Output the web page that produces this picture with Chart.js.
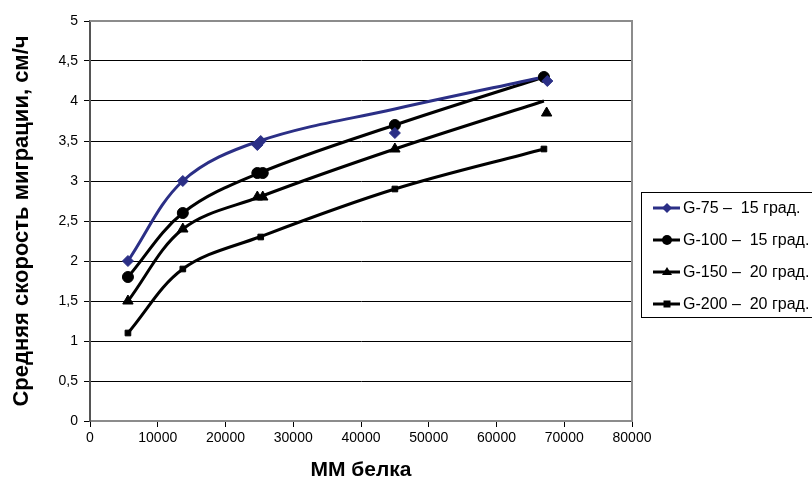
<!DOCTYPE html>
<html>
<head>
<meta charset="utf-8">
<script src="https://cdn.jsdelivr.net/npm/chart.js@4/dist/chart.umd.min.js"></script>
<style>
  body { margin: 0; background: #fff; }
  canvas { display: block; }
</style>
</head>
<body>
<canvas id="chart" width="812" height="483"></canvas>
<script>
// series names
const seriesLabels = ['G-75 \u2013  15 град.', 'G-100 \u2013  15 град.', 'G-150 \u2013  20 град.', 'G-200 \u2013  20 град.'];

// smoothed lines (x = MM, y = speed)
const g75LineX = [5600, 13700, 25000, 45000, 67000];
const g75LineY = [2.0, 3.0, 3.5, 3.9, 4.3];
const g100LineX = [5600, 13700, 25000, 45000, 67000];
const g100LineY = [1.8, 2.6, 3.1, 3.7, 4.3];
const g150LineX = [5600, 13700, 25000, 45000, 67000];
const g150LineY = [1.5, 2.4, 2.8, 3.4, 4.0];
const g200LineX = [5600, 13700, 25000, 45000, 67000];
const g200LineY = [1.1, 1.9, 2.3, 2.9, 3.4];

// measured points
const g75PointX = [5600, 13700, 24700, 25200, 45000, 67500];
const g75PointY = [2.0, 3.0, 3.45, 3.5, 3.6, 4.25];
const g100PointX = [5600, 13700, 24700, 25500, 45000, 67000];
const g100PointY = [1.8, 2.6, 3.1, 3.1, 3.7, 4.3];
const g150PointX = [5600, 13700, 24700, 25500, 45000, 67400];
const g150PointY = [1.5, 2.4, 2.8, 2.8, 3.4, 3.85];
const g200PointX = [5600, 13700, 25200, 45000, 67000];
const g200PointY = [1.1, 1.9, 2.3, 2.9, 3.4];

const xTicks = [0, 10000, 20000, 30000, 40000, 50000, 60000, 70000, 80000];
const yTicks = [0, 0.5, 1, 1.5, 2, 2.5, 3, 3.5, 4, 4.5, 5];

const colors = ['#2b2f86', '#000', '#000', '#000'];
const styles = ['rectRot', 'circle', 'triangle', 'rect'];
const radii = [5.5, 5.5, 6, 4];

function pairs(xs, ys) {
    return xs.map((x, i) => ({ x: x, y: ys[i] }));
}

const lines = [[g75LineX, g75LineY], [g100LineX, g100LineY], [g150LineX, g150LineY], [g200LineX, g200LineY]];
const points = [[g75PointX, g75PointY], [g100PointX, g100PointY], [g150PointX, g150PointY], [g200PointX, g200PointY]];

const datasets = [];
// lines go first so markers sit on top
lines.forEach((l, i) => {
    datasets.push({
        label: seriesLabels[i],
        data: pairs(l[0], l[1]),
        showLine: true,
        borderColor: colors[i],
        borderWidth: 3,
        tension: 0.35,
        pointRadius: 0,
        order: 2
    });
});
points.forEach((p, i) => {
    datasets.push({
        label: seriesLabels[i] + ' pts',
        data: pairs(p[0], p[1]),
        showLine: false,
        pointStyle: styles[i],
        pointRadius: radii[i],
        backgroundColor: colors[i],
        borderColor: colors[i],
        borderWidth: 1,
        order: 1
    });
});

// frame around the plot area (top and right sides)
const frame = {
    id: 'frame',
    beforeDatasetsDraw(chart) {
        const a = chart.chartArea;
        const ctx = chart.ctx;
        ctx.save();
        ctx.strokeStyle = '#8c8c8c';
        ctx.lineWidth = 2;
        ctx.beginPath();
        ctx.moveTo(a.left, a.top);
        ctx.lineTo(a.right, a.top);
        ctx.lineTo(a.right, a.bottom);
        ctx.stroke();
        ctx.restore();
    }
};

function marker(ctx, style, x, y, r) {
    ctx.beginPath();
    if (style === 'circle') {
        ctx.arc(x, y, r, 0, Math.PI * 2);
    } else if (style === 'rectRot') {
        ctx.moveTo(x, y - r); ctx.lineTo(x + r, y); ctx.lineTo(x, y + r); ctx.lineTo(x - r, y);
    } else if (style === 'triangle') {
        ctx.moveTo(x, y - r); ctx.lineTo(x + r, y + r * 0.6); ctx.lineTo(x - r, y + r * 0.6);
    } else {
        ctx.rect(x - r, y - r, r * 2, r * 2);
    }
    ctx.closePath();
    ctx.fill();
}

// legend box on the right, like the original
const boxLegend = {
    id: 'boxLegend',
    afterDraw(chart) {
        const ctx = chart.ctx;
        ctx.save();
        ctx.strokeStyle = '#000';
        ctx.lineWidth = 1;
        ctx.strokeRect(641.5, 192.5, 200, 125);
        ctx.font = '16px "Liberation Sans", Arial, sans-serif';
        ctx.textBaseline = 'middle';
        seriesLabels.forEach((lab, i) => {
            const y = 208 + i * 32;
            ctx.strokeStyle = colors[i];
            ctx.fillStyle = colors[i];
            ctx.lineWidth = 3;
            ctx.beginPath();
            ctx.moveTo(653, y);
            ctx.lineTo(680, y);
            ctx.stroke();
            marker(ctx, styles[i], 667, y, i === 3 ? 3.5 : 5);
            ctx.fillStyle = '#000';
            ctx.fillText(lab, 683, y + 1);
        });
        ctx.restore();
    }
};

const tickFont = { family: '"Liberation Sans", Arial, sans-serif', size: 14 };
const fontFamily = '"Liberation Sans", Arial, sans-serif';

new Chart(document.getElementById('chart'), {
    type: 'scatter',
    data: { datasets: datasets },
    options: {
        responsive: false,
        animation: false,
        layout: { padding: { top: 21, right: 180, left: 0, bottom: 0 } },
        plugins: {
            legend: { display: false },
            tooltip: { enabled: false }
        },
        scales: {
            x: {
                type: 'linear',
                min: 0,
                max: 80000,
                afterFit: s => { s.height = 62; },
                afterBuildTicks: s => { s.ticks = xTicks.map(v => ({ value: v })); },
                ticks: { font: tickFont, color: '#000', padding: 3, maxRotation: 0, callback: v => String(v) },
                grid: { drawOnChartArea: false, drawTicks: true, tickLength: 6, color: '#000' },
                border: { color: '#8c8c8c', width: 2 },
                title: { display: true, text: 'ММ белка', font: { family: fontFamily, size: 21, weight: 'bold' }, color: '#000', padding: { top: 0, bottom: 0 } }
            },
            y: {
                min: 0,
                max: 5,
                afterFit: s => { s.width = 90; },
                afterBuildTicks: s => { s.ticks = yTicks.map(v => ({ value: v })); },
                ticks: { font: tickFont, color: '#000', padding: 6, callback: v => String(v).replace('.', ',') },
                grid: { color: '#000', lineWidth: 1, drawTicks: true, tickLength: 6 },
                border: { color: '#555', width: 2 },
                title: { display: true, text: 'Средняя скорость миграции, см/ч', font: { family: fontFamily, size: 22, weight: 'bold' }, color: '#000', padding: { top: 9, bottom: 0 } }
            }
        }
    },
    plugins: [frame, boxLegend]
});
</script>
</body>
</html>
